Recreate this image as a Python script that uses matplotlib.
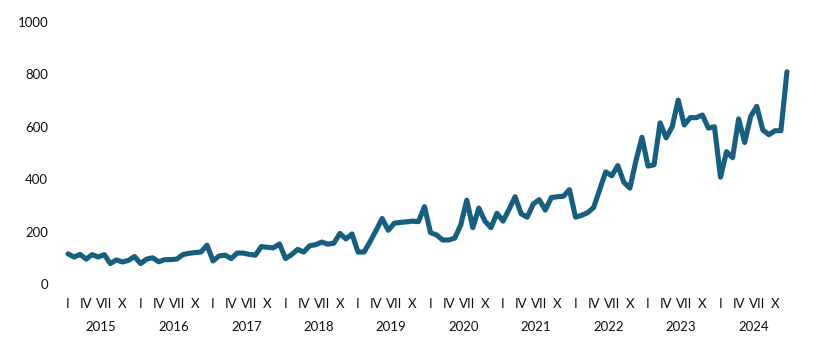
import matplotlib
matplotlib.use("Agg")
import matplotlib.pyplot as plt
import matplotlib.transforms as mtransforms
import numpy as np

years = [2015, 2016, 2017, 2018, 2019, 2020, 2021, 2022, 2023, 2024]
month_ticks = [0, 3, 6, 9]
month_labels = ["I", "IV", "VII", "X"]

v2015 = [115, 103, 113, 95, 112, 103, 112, 78, 92, 84, 90, 105]
v2016 = [78, 95, 100, 85, 93, 93, 95, 112, 117, 120, 122, 148]
v2017 = [88, 107, 110, 97, 118, 118, 113, 110, 143, 140, 138, 153]
v2018 = [97, 112, 132, 122, 146, 150, 160, 152, 156, 193, 172, 191]
v2019 = [122, 122, 162, 205, 250, 205, 232, 235, 237, 240, 238, 295]
v2020 = [196, 187, 168, 168, 175, 225, 320, 215, 290, 240, 215, 270]
v2021 = [240, 285, 333, 268, 255, 305, 322, 282, 330, 333, 335, 360]
v2022 = [255, 262, 272, 292, 360, 428, 413, 452, 388, 366, 470, 560]
v2023 = [450, 455, 615, 558, 600, 702, 607, 635, 635, 645, 595, 600]
v2024 = [408, 505, 482, 630, 540, 640, 678, 588, 570, 585, 585, 810]

values = v2015 + v2016 + v2017 + v2018 + v2019 + v2020 + v2021 + v2022 + v2023 + v2024

plt.rcParams['font.family'] = ['Lato', 'DejaVu Sans']

fig = plt.figure(figsize=(8.29, 3.5), dpi=100)
ax = fig.add_axes([62/829, (350-284)/350, (793-62)/829, (284-22)/350])

x = np.arange(len(values))
ax.plot(x, values, color='#175f80', linewidth=3.7, solid_joinstyle='round', solid_capstyle='round')

ax.set_xlim(-1, len(values))
ax.set_ylim(0, 1000)
ax.set_yticks([0, 200, 400, 600, 800, 1000])
ax.tick_params(axis='y', length=0, pad=10, labelsize=9.5, colors='#111111')

xt = []
xl = []
for i, yr in enumerate(years):
    for m, lab in zip(month_ticks, month_labels):
        xt.append(i * 12 + m)
        xl.append(lab)
ax.set_xticks(xt)
ax.set_xticklabels(xl)
ax.tick_params(axis='x', length=0, pad=10, labelsize=9.5, colors='#111111')

trans = mtransforms.blended_transform_factory(ax.transData, ax.transAxes)
for i, yr in enumerate(years):
    ax.text(i * 12 + 5.5, -43/262, str(yr), transform=trans, ha='center', va='center',
            fontsize=9.5, color='#111111')

for s in ax.spines.values():
    s.set_visible(False)

fig.savefig('out.png', dpi=100)
